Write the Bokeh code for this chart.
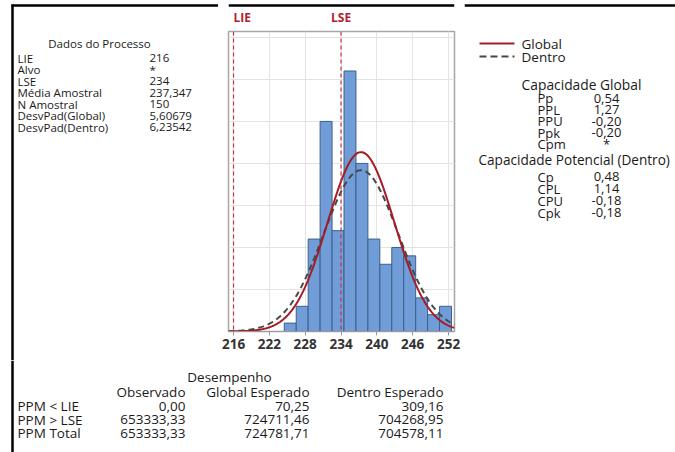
import numpy as np
from bokeh.plotting import figure
from bokeh.layouts import row, column
from bokeh.models import Span, FixedTicker, Range1d
from bokeh.core.properties import value
from bokeh.embed import file_html
from bokeh.resources import INLINE

# ---------------- data ----------------
bin_left = [224.5, 226.5, 228.5, 230.5, 232.5, 234.5, 236.5, 238.5,
            240.5, 242.5, 244.5, 246.5, 248.5, 250.5]
counts = [1, 3, 11, 25, 12, 31, 20, 11, 8, 10, 9, 4, 2, 3]
bin_width = 2.0
x_ticks = [216, 222, 228, 234, 240, 246, 252]
y_grid = [0, 5, 10, 15, 20, 25, 30, 35]

lie = 216
lse = 234
mean = 237.347
n_obs = 150
sd_global = 5.60679
sd_within = 6.23542

proc_labels = ["LIE", "Alvo", "LSE", "Média Amostral", "N Amostral",
               "DesvPad(Global)", "DesvPad(Dentro)"]
proc_values = ["216", "*", "234", "237,347", "150", "5,60679", "6,23542"]

legend_labels = ["Global", "Dentro"]

glob_labels = ["Pp", "PPL", "PPU", "Ppk", "Cpm"]
glob_values = ["0,54", "1,27", "-0,20", "-0,20", "*"]
pot_labels = ["Cp", "CPL", "CPU", "Cpk"]
pot_values = ["0,48", "1,14", "-0,18", "-0,18"]

perf_rows = ["PPM < LIE", "PPM > LSE", "PPM Total"]
perf_cols = ["Observado", "Global Esperado", "Dentro Esperado"]
perf_obs = ["0,00", "653333,33", "653333,33"]
perf_glob = ["70,25", "724711,46", "724781,71"]
perf_dentro = ["309,16", "704268,95", "704578,11"]

FONT = "Open Sans"
TXT = "#1a1a1a"
RED = "#a51c24"
SPEC = "#c8323f"
DASHC = "#474747"

# ---------------- layout geometry (page pixels) ----------------
PAGE_W, PAGE_H = 675, 452
HX0, HX1 = 218, 464        # histogram figure span
TOP_H = 30                 # strip above the histogram frame
MAIN_H = 360               # height of the upper row
X_MIN, X_MAX = 215.16, 253.0
PAD_L, PAD_R = 10, 10      # histogram frame inset inside its figure


def text_fig(x0, x1, y0, y1, xr=None):
    f = figure(width=x1 - x0, height=y1 - y0, output_backend="svg",
               toolbar_location=None, min_border=0,
               x_range=xr if xr is not None else Range1d(x0, x1),
               y_range=Range1d(y1, y0),
               x_axis_location=None, y_axis_location=None)
    f.outline_line_color = None
    f.xgrid.visible = False
    f.ygrid.visible = False
    f.background_fill_color = "white"
    f.border_fill_color = "white"
    return f


def put(f, xs, ys, texts, align="left", size="13px", color=TXT, style="normal"):
    f.text(x=xs, y=ys, text=texts, text_align=align, text_baseline="middle",
           text_font=value(FONT), text_font_size=size, text_color=color,
           text_font_style=style)


def border_top(f, x0, x1):
    f.segment(x0=[x0], y0=[5], x1=[x1], y1=[5], line_color="black", line_width=2.5)


def border_left(f, y0, y1):
    f.segment(x0=[12], y0=[y0], x1=[12], y1=[y1], line_color="black", line_width=2.5)


# ---------------- histogram ----------------
hist = figure(width=HX1 - HX0, height=MAIN_H - TOP_H, output_backend="svg",
              toolbar_location=None,
              x_range=Range1d(X_MIN, X_MAX), y_range=Range1d(0, 35.7),
              y_axis_location=None,
              min_border_left=PAD_L, min_border_right=PAD_R,
              min_border_top=1, min_border_bottom=MAIN_H - TOP_H - 1 - 300)
hist.background_fill_color = "white"
hist.border_fill_color = "white"
hist.outline_line_color = "#a6a6a6"
hist.outline_line_width = 1.5
hist.xgrid.ticker = FixedTicker(ticks=x_ticks)
hist.ygrid.ticker = FixedTicker(ticks=y_grid)
hist.xgrid.grid_line_color = "#e3e3e3"
hist.ygrid.grid_line_color = "#e3e3e3"

ax = hist.xaxis[0]
ax.ticker = FixedTicker(ticks=x_ticks)
ax.major_label_text_font = FONT
ax.major_label_text_font_size = "13.5px"
ax.major_label_text_font_style = "bold"
ax.major_label_text_color = "#333333"
ax.axis_line_color = "#999999"
ax.major_tick_line_color = "#999999"
ax.major_tick_out = 4
ax.major_tick_in = 0
ax.minor_tick_line_color = None
ax.major_label_standoff = 3

bin_right = [b + bin_width for b in bin_left]
hist.quad(left=bin_left, right=bin_right, bottom=0, top=counts,
          fill_color="#709cd7", line_color="#3e5f8a", line_width=1)

xs = np.linspace(X_MIN, X_MAX, 300)
scale = n_obs * bin_width
yg = scale * np.exp(-0.5 * ((xs - mean) / sd_global) ** 2) / (sd_global * np.sqrt(2 * np.pi))
yw = scale * np.exp(-0.5 * ((xs - mean) / sd_within) ** 2) / (sd_within * np.sqrt(2 * np.pi))
hist.line(xs, yw, line_color=DASHC, line_width=2, line_dash="6 4")
hist.line(xs, yg, line_color=RED, line_width=2)

for loc in (lie, lse):
    hist.add_layout(Span(location=loc, dimension="height", line_color=SPEC,
                         line_width=1.2, line_dash="4 3"))

# strip above histogram (shares the histogram's x scale)
ppu = (HX1 - HX0 - PAD_L - PAD_R) / (X_MAX - X_MIN)
strip_range = Range1d(X_MIN - PAD_L / ppu, X_MAX + PAD_R / ppu)
strip = text_fig(HX0, HX1, 0, TOP_H, xr=strip_range)
put(strip, [lie, lse], [17, 17], ["LIE", "LSE"], align="center", size="12px",
    color="#b0202e", style="bold")
strip.segment(x0=[strip_range.start], y0=[5], x1=[strip_range.end], y1=[5],
              line_color="black", line_width=2.5)

# ---------------- left block ----------------
left = text_fig(0, HX0, 0, MAIN_H)
border_top(left, 11, HX0)
border_left(left, 4, MAIN_H)
put(left, [99], [43], ["Dados do Processo"], align="center", size="11.5px")
ys = [57.5 + i * 11.5 for i in range(len(proc_labels))]
put(left, [17] * len(ys), ys, proc_labels, size="11.5px")
put(left, [149] * len(ys), ys, proc_values, size="11.5px")

# ---------------- right block ----------------
right = text_fig(HX1, PAGE_W, 0, MAIN_H)
border_top(right, HX1, PAGE_W)
right.segment(x0=[479], y0=[43], x1=[514], y1=[43], line_color=RED, line_width=2)
right.segment(x0=[479], y0=[56], x1=[514], y1=[56], line_color=DASHC,
              line_width=2, line_dash="7 4")
put(right, [521, 521], [43, 56], legend_labels, size="13.5px")

put(right, [581], [84], ["Capacidade Global"], align="center", size="13.8px")
gy = [97.5 + i * 11.6 for i in range(len(glob_labels))]
put(right, [537] * len(gy), gy, glob_labels, size="13px")
put(right, [606] * len(gy), gy, glob_values, align="center", size="13px")
put(right, [478], [158.5], ["Capacidade Potencial (Dentro)"], size="13.6px")
py = [176 + i * 12 for i in range(len(pot_labels))]
put(right, [537] * len(py), py, pot_labels, size="13px")
put(right, [606] * len(py), py, pot_values, align="center", size="13px")

# ---------------- bottom block ----------------
bottom = text_fig(0, PAGE_W, MAIN_H, PAGE_H)
border_left(bottom, MAIN_H, PAGE_H)
col_right = [185, 309, 443]
put(bottom, [229], [376.5], ["Desempenho"], align="center", size="13.5px")
put(bottom, col_right, [391.5] * 3, perf_cols, align="right", size="13.5px")
ry = [405.5 + i * 13.5 for i in range(len(perf_rows))]
put(bottom, [17] * 3, ry, perf_rows, size="13.5px")
put(bottom, [col_right[0]] * 3, ry, perf_obs, align="right", size="13.5px")
put(bottom, [col_right[1]] * 3, ry, perf_glob, align="right", size="13.5px")
put(bottom, [col_right[2]] * 3, ry, perf_dentro, align="right", size="13.5px")

layout = column(row(left, column(strip, hist), right), bottom)
open("out.html", "w").write(file_html(layout, INLINE))
